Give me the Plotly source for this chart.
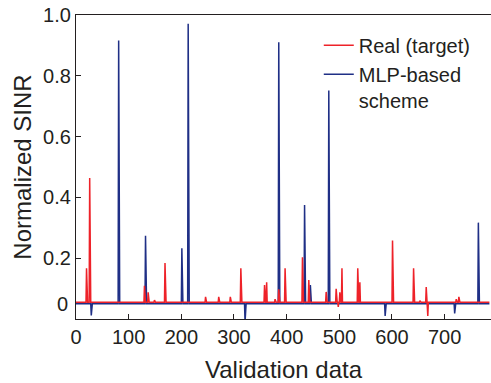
import plotly.graph_objects as go

# ---- data ----
n_points = 786
real_baseline = 0.055
mlp_baseline = 0.05

real_spike_x = [20, 26, 130, 137, 149, 169, 246, 271, 293, 313, 358, 362, 378, 385,
                397, 430, 442, 475, 494, 498, 501, 505, 535, 539, 601, 641, 653, 665,
                668, 722, 727]
real_spike_y = [0.167, 0.464, 0.109, 0.088, 0.062, 0.184, 0.073, 0.073, 0.073, 0.167,
                0.112, 0.121, 0.065, 0.098, 0.167, 0.203, 0.128, 0.089, 0.099, 0.040,
                0.088, 0.167, 0.167, 0.121, 0.258, 0.167, 0.060, 0.105, 0.010, 0.065,
                0.073]

mlp_spike_x = [29, 81, 132, 201, 213, 321, 385, 434, 445, 480, 587, 719, 764]
mlp_spike_y = [0.012, 0.916, 0.274, 0.233, 0.971, -0.01, 0.910, 0.375, 0.112, 0.752,
               0.010, 0.018, 0.317]

y_tick_vals = [0.2, 0.4, 0.6, 0.8, 1.0]
y_tick_text = ["0.2", "0.4", "0.6", "0.8", "1.0"]
x_tick_vals = [0, 100, 200, 300, 400, 500, 600, 700]

# ---- build series ----
x = list(range(n_points))
real = [real_baseline] * n_points
for xi, yi in zip(real_spike_x, real_spike_y):
    real[xi] = yi
mlp = [mlp_baseline] * n_points
for xi, yi in zip(mlp_spike_x, mlp_spike_y):
    mlp[xi] = yi

RED = "#ee2229"
BLUE = "#1f2f86"
TXT = "#231f20"
FONT = "Liberation Sans, Arial, sans-serif"

fig = go.Figure()
fig.add_trace(go.Scatter(x=x, y=mlp, mode="lines", name="MLP-based<br>scheme",
                         line=dict(color=BLUE, width=1.5), legendrank=2))
fig.add_trace(go.Scatter(x=x, y=real, mode="lines", name="Real (target)",
                         line=dict(color=RED, width=1.5), legendrank=1))

fig.update_layout(
    width=491, height=383,
    margin=dict(l=76, r=0, t=15, b=64),
    plot_bgcolor="white", paper_bgcolor="white",
    font=dict(family=FONT, size=20, color=TXT),
    showlegend=True,
    legend=dict(x=0.585, y=0.965, xanchor="left", yanchor="top",
                bgcolor="rgba(0,0,0,0)", font=dict(size=20),
                tracegroupgap=0, itemwidth=30, valign="top"),
    xaxis=dict(range=[0, 788], tickvals=x_tick_vals, ticks="inside", ticklen=5,
               tickwidth=1.2, tickcolor=TXT, showline=True, linecolor=TXT,
               linewidth=1.2, mirror=True, showgrid=False, zeroline=False,
               title=dict(text="Validation data", standoff=16),
               tickfont=dict(size=20)),
    yaxis=dict(range=[0, 1.0], tickvals=y_tick_vals, ticktext=y_tick_text,
               ticks="inside", ticklen=5, tickwidth=1.2, tickcolor=TXT,
               showline=True, linecolor=TXT, linewidth=1.2, showgrid=False,
               zeroline=False, title=dict(text="Normalized SINR", standoff=4),
               tickfont=dict(size=20)),
    annotations=[dict(x=0, xref="paper", y=0.05, yref="y", text="0",
                      showarrow=False, xanchor="right", xshift=-6,
                      font=dict(size=20, color=TXT))],
)

fig.write_html("out.html")
